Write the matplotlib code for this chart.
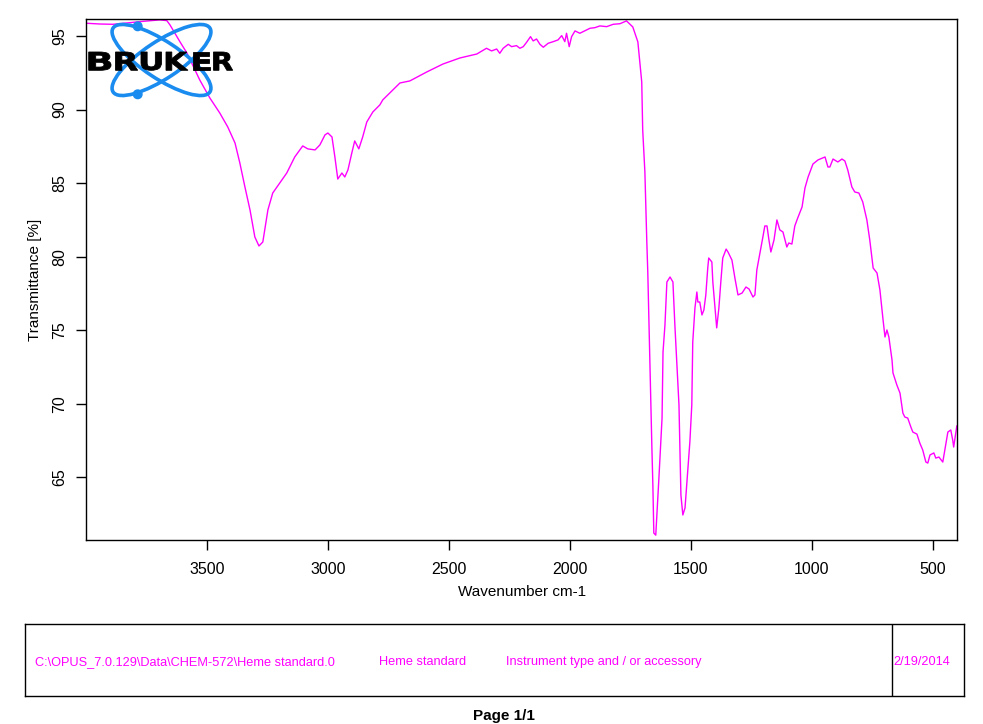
import matplotlib
matplotlib.use("Agg")
import matplotlib.pyplot as plt
from matplotlib.patches import Ellipse, Circle, PathPatch
from matplotlib.textpath import TextPath
from matplotlib.font_manager import FontProperties
from matplotlib.transforms import Affine2D

plt.rcParams['font.family'] = ['Liberation Sans', 'DejaVu Sans']

# ---- data ----
wavenumber = [
    3999, 3944, 3890, 3832, 3779, 3696, 3667, 3654, 3613, 3584, 3551, 3531,
    3489, 3448, 3415, 3385, 3365, 3344, 3323, 3303, 3286, 3270, 3249, 3229,
    3200, 3171, 3138, 3105, 3084, 3054, 3034, 3013, 3001, 2984, 2972, 2960,
    2943, 2931, 2918, 2902, 2890, 2873, 2857, 2840, 2815, 2786, 2774, 2703,
    2662, 2592, 2525, 2455, 2385,
    2345, 2324, 2303, 2290, 2276, 2255, 2241, 2221, 2207, 2193, 2179, 2163,
    2152, 2138, 2124, 2110, 2090, 2069, 2049, 2034, 2021, 2014, 2003, 1993,
    1979, 1959, 1931, 1917, 1897, 1876, 1848, 1821, 1793, 1766,
    1740, 1719, 1703, 1699, 1690, 1682, 1678, 1670, 1661, 1657, 1653, 1645,
    1641, 1632, 1619, 1615, 1607, 1599, 1586, 1574, 1566, 1557, 1549, 1541,
    1533, 1524, 1516, 1504, 1496, 1492, 1483, 1475, 1471, 1463, 1454, 1446,
    1438, 1430, 1426, 1413, 1409, 1401, 1393, 1384, 1376, 1368, 1354, 1346,
    1330, 1317, 1305, 1288, 1272, 1259, 1243, 1235, 1227, 1214, 1202, 1194,
    1185, 1177, 1169, 1156, 1144, 1132, 1119, 1103, 1095, 1082, 1070, 1058,
    1040, 1028, 1015, 995, 974, 945, 933, 925, 912, 892, 875, 863,
    851, 834, 822, 805, 789, 772, 760, 746, 730, 718, 705, 697,
    689, 681, 668, 664, 648, 635, 623, 615, 603, 590, 582, 565,
    553, 541, 528, 520, 511, 495, 487, 474, 458, 445, 437, 425,
    417, 413, 400,
]
transmittance = [
    95.87, 95.82, 95.80, 95.89, 95.98, 96.10, 96.05, 95.76, 94.62, 93.85, 92.70, 92.02,
    90.79, 89.77, 88.82, 87.73, 86.37, 84.74, 83.18, 81.34, 80.73, 81.00, 83.18, 84.33,
    85.01, 85.69, 86.78, 87.53, 87.33, 87.26, 87.60, 88.28, 88.41, 88.14, 86.78, 85.28,
    85.69, 85.42, 85.90, 87.05, 87.87, 87.33, 88.14, 89.16, 89.84, 90.32, 90.66, 91.81,
    91.95, 92.56, 93.10, 93.51, 93.78,
    94.17, 93.99, 94.12, 93.83, 94.17, 94.44, 94.28, 94.35, 94.17, 94.28, 94.58, 94.96,
    94.67, 94.80, 94.44, 94.24, 94.51, 94.62, 94.74, 95.03, 94.62, 95.19, 94.28, 94.96,
    95.35, 95.19, 95.42, 95.53, 95.57, 95.69, 95.64, 95.80, 95.84, 96.03,
    95.62, 94.60, 91.88, 88.62, 85.76, 81.00, 78.96, 73.32, 66.99, 64.48, 61.21, 61.07,
    62.23, 64.95, 69.03, 73.52, 75.36, 78.28, 78.62, 78.28, 75.36, 72.43, 69.92, 63.80,
    62.44, 62.92, 64.68, 67.40, 69.92, 74.20, 76.51, 77.60, 76.92, 76.92, 76.04, 76.38,
    77.40, 79.23, 79.91, 79.64, 78.28, 76.72, 75.16, 76.51, 78.28, 79.91, 80.52, 80.31,
    79.77, 78.48, 77.40, 77.53, 77.94, 77.80, 77.26, 77.40, 79.10, 80.25, 81.34, 82.09,
    82.09, 81.14, 80.32, 81.14, 82.50, 81.82, 81.68, 80.66, 80.93, 80.86, 82.09, 82.63,
    83.38, 84.67, 85.42, 86.30, 86.58, 86.78, 86.10, 86.10, 86.64, 86.44, 86.64, 86.51,
    85.90, 84.74, 84.40, 84.33, 83.72, 82.50, 81.14, 79.23, 78.89, 77.74, 75.70, 74.54,
    75.02, 74.54, 72.98, 72.10, 71.28, 70.73, 69.37, 69.10, 69.03, 68.42, 68.08, 67.94,
    67.33, 66.86, 66.04, 65.97, 66.52, 66.66, 66.31, 66.38, 66.04, 67.33, 68.08, 68.22,
    67.54, 67.06, 68.49,
]
x_ticks = [3500, 3000, 2500, 2000, 1500, 1000, 500]
y_ticks = [65, 70, 75, 80, 85, 90, 95]
x_label = "Wavenumber cm-1"
y_label = "Transmittance [%]"
file_path = "C:\\OPUS_7.0.129\\Data\\CHEM-572\\Heme standard.0"
sample_name = "Heme standard"
instrument = "Instrument type and / or accessory"
date_str = "2/19/2014"
page_str = "Page 1/1"
logo_text = "BRUKER"

W, H = 983, 724
MAG = '#FF00FF'

fig = plt.figure(figsize=(W / 100, H / 100), dpi=100)
fig.patch.set_facecolor('white')


def fx(px):
    return px / W


def fy(py):
    return 1 - py / H


# ---- main axes ----
L, R, T, B = 86.3, 957.3, 19, 540
ax = fig.add_axes([fx(L), fy(B), (R - L) / W, (B - T) / H])
ax.plot(wavenumber, transmittance, color=MAG, lw=1.0)
ax.set_xlim(4000, 398)
ax.set_ylim(60.74, 96.16)
ax.set_xticks(x_ticks)
ax.set_yticks(y_ticks)
ax.tick_params(direction='out', length=7, width=1, labelsize=11.5, pad=9, color='black')
ax.tick_params(axis='y', labelrotation=90, pad=6.8)
for lab in ax.get_yticklabels():
    lab.set_va('center')
for s in ax.spines.values():
    s.set_linewidth(1.0)
    s.set_color('black')
ax.set_xlabel(x_label, fontsize=11)
ax.set_ylabel(y_label, fontsize=11)
ax.xaxis.set_label_coords(0.5, -(592 - B) / (B - T))
ax.xaxis.label.set_va('center')
ax.yaxis.set_label_coords(-(L - 35) / (R - L), 0.5)
ax.yaxis.label.set_va('center')
ax.yaxis.label.set_ha('center')

# ---- Bruker logo ----
lx0, lx1, ly0, ly1 = 86.5, 236, 18, 101
lax = fig.add_axes([fx(lx0), fy(ly1), (lx1 - lx0) / W, (ly1 - ly0) / H])
lax.set_xlim(lx0, lx1)
lax.set_ylim(ly1, ly0)
lax.axis('off')
lax.patch.set_alpha(0)
BLUE = '#1a8cf0'
for ang in (33.5, -33.5):
    lax.add_patch(Ellipse((161.5, 60), 116, 37, angle=ang, fill=False,
                          edgecolor=BLUE, lw=2.6))
for cy in (26.3, 94.3):
    lax.add_patch(Circle((137.7, cy), 4.3, color=BLUE))
fp = FontProperties(family='DejaVu Sans', weight='bold')
letter_boxes = [(88.7, 111.0), (115.5, 137.7), (141.0, 161.5),
                (166.0, 188.0), (192.5, 209.5), (213.5, 232.7)]
y_top, y_bot = 52.0, 70.3
for ch, (x0, x1) in zip(logo_text, letter_boxes):
    tp = TextPath((0, 0), ch, size=10, prop=fp)
    ext = tp.get_extents()
    sx = (x1 - x0) / ext.width
    sy = (y_bot - y_top) / ext.height
    tr = Affine2D().translate(-ext.x0, -ext.y0).scale(sx, -sy).translate(x0, y_bot)
    lax.add_patch(PathPatch(tr.transform_path(tp), facecolor='black',
                            edgecolor='black', lw=0.6))

# ---- info box ----
bx0, bx1, by0, by1 = 25, 964, 624.3, 696
bax = fig.add_axes([fx(bx0), fy(by1), (bx1 - bx0) / W, (by1 - by0) / H])
bax.set_xticks([])
bax.set_yticks([])
for s in bax.spines.values():
    s.set_linewidth(1.0)
bax.axvline((891.6 - bx0) / (bx1 - bx0), color='black', lw=1.0)
ty = fy(661.7)
fig.text(fx(34.7), ty, file_path, color=MAG, fontsize=9.2, va='center', ha='left')
fig.text(fx(378.8), ty, sample_name, color=MAG, fontsize=9.2, va='center', ha='left')
fig.text(fx(506), ty, instrument, color=MAG, fontsize=9.2, va='center', ha='left')
fig.text(fx(893.5), ty, date_str, color=MAG, fontsize=9.2, va='center', ha='left')
fig.text(fx(504), fy(716), page_str, color='black', fontsize=11,
         fontweight='bold', va='center', ha='center')

fig.savefig('out.png', dpi=100)
